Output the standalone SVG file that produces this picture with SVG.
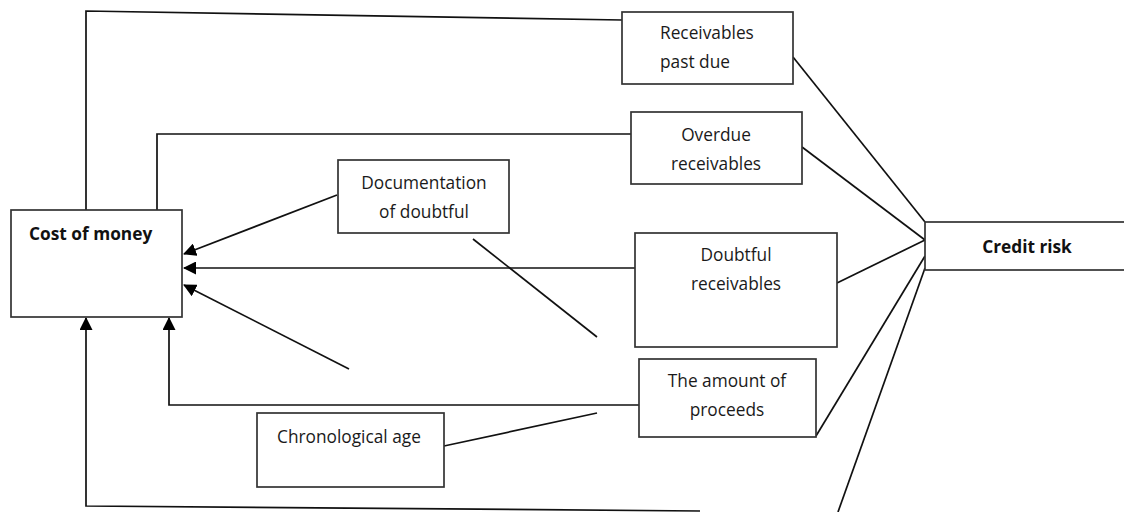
<svg xmlns="http://www.w3.org/2000/svg" width="1124" height="512" viewBox="0 0 1124 512">
<style>
.box{fill:#fff;stroke:#333;stroke-width:1.7}
.ln{fill:none;stroke:#111;stroke-width:1.7}
.t{font-family:"Open Sans",Lato,sans-serif;font-size:17.3px;fill:#1a1a1a}
.b{font-family:"Open Sans",Lato,sans-serif;font-size:17.3px;font-weight:bold;fill:#111}
</style>
<defs>
<marker id="ah" viewBox="0 0 13 13" refX="12" refY="6.5" markerWidth="13" markerHeight="13" markerUnits="userSpaceOnUse" orient="auto">
<path d="M0,0 L13,6.5 L0,13 Z" fill="#000"/>
</marker>
</defs>
<rect width="1124" height="512" fill="#fff"/>
<g id="connectors">
<polyline class="ln" points="86,210 86,11 622,20"/>
<polyline class="ln" points="157,210 157,134 631,134"/>
<line class="ln" x1="337" y1="195" x2="184" y2="254" marker-end="url(#ah)"/>
<line class="ln" x1="635" y1="268" x2="184" y2="268" marker-end="url(#ah)"/>
<line class="ln" x1="349" y1="369" x2="184" y2="285" marker-end="url(#ah)"/>
<polyline class="ln" points="639,405 169,405 169,318" marker-end="url(#ah)"/>
<polyline class="ln" points="700,511 86,506 86,318" marker-end="url(#ah)"/>
<line class="ln" x1="473" y1="239" x2="597" y2="337"/>
<line class="ln" x1="444" y1="446" x2="597" y2="413"/>
<line class="ln" x1="793" y1="57" x2="925" y2="222"/>
<line class="ln" x1="802" y1="147" x2="925" y2="240"/>
<line class="ln" x1="837" y1="283" x2="925" y2="240"/>
<line class="ln" x1="816" y1="436" x2="925" y2="256"/>
<line class="ln" x1="838" y1="512" x2="925" y2="268"/>
</g>
<g id="cost">
<rect class="box" x="11" y="210" width="171" height="107"/>
<text class="b" x="29" y="240">Cost of money</text>
</g>
<g id="receivables-past-due">
<rect class="box" x="622" y="12" width="171" height="72"/>
<text class="t" x="660" y="39">Receivables</text>
<text class="t" x="660" y="68">past due</text>
</g>
<g id="overdue">
<rect class="box" x="631" y="112" width="171" height="72"/>
<text class="t" x="716" y="141" text-anchor="middle">Overdue</text>
<text class="t" x="716" y="170" text-anchor="middle">receivables</text>
</g>
<g id="documentation">
<rect class="box" x="338" y="160" width="171" height="73"/>
<text class="t" x="424" y="189" text-anchor="middle">Documentation</text>
<text class="t" x="424" y="218" text-anchor="middle">of doubtful</text>
</g>
<g id="doubtful">
<rect class="box" x="635" y="233" width="202" height="114"/>
<text class="t" x="736" y="261" text-anchor="middle">Doubtful</text>
<text class="t" x="736" y="290" text-anchor="middle">receivables</text>
</g>
<g id="proceeds">
<rect class="box" x="639" y="359" width="177" height="78"/>
<text class="t" x="727" y="387" text-anchor="middle">The amount of</text>
<text class="t" x="727" y="416" text-anchor="middle">proceeds</text>
</g>
<g id="chronological">
<rect class="box" x="257" y="413" width="187" height="74"/>
<text class="t" x="277" y="443">Chronological age</text>
</g>
<g id="credit-risk">
<rect class="box" x="925" y="222" width="210" height="48"/>
<text class="b" x="1027" y="253" text-anchor="middle">Credit risk</text>
</g>
</svg>
